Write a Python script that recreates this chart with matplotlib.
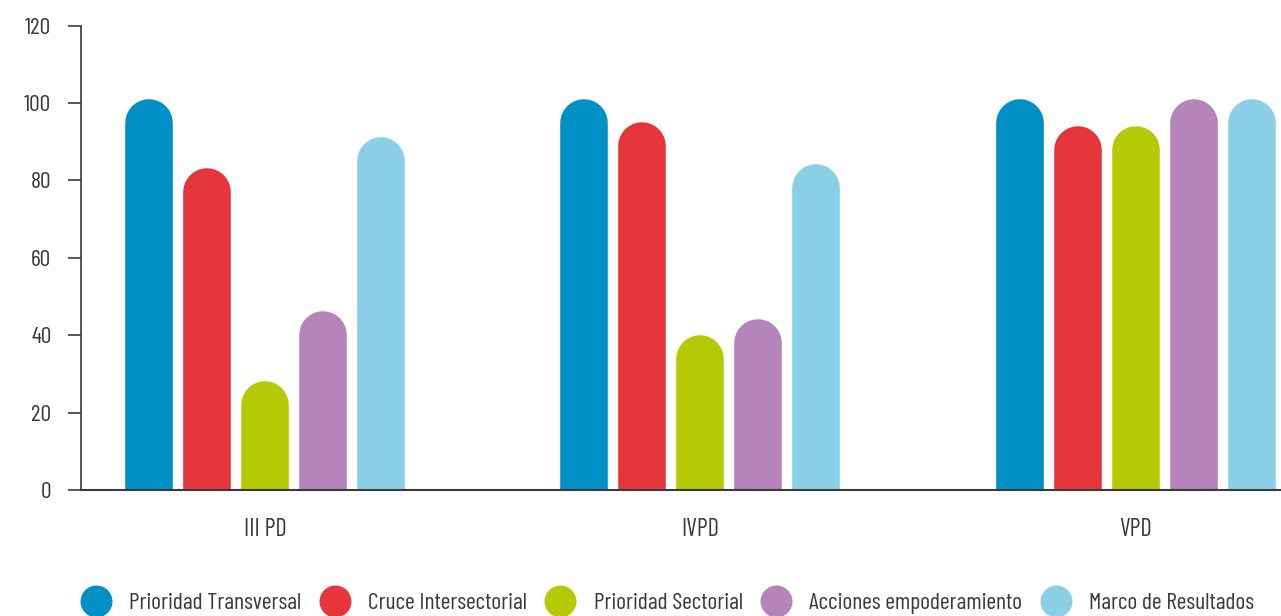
import matplotlib
matplotlib.use('Agg')
import matplotlib.pyplot as plt
from matplotlib.lines import Line2D
import numpy as np

groups = ['III PD', 'IVPD', 'VPD']
series = ['Prioridad Transversal', 'Cruce Intersectorial', 'Prioridad Sectorial',
          'Acciones empoderamiento', 'Marco de Resultados']
colors = ['#0090c5', '#e5373b', '#b5ca04', '#b584bb', '#8acfe5']

prioridad_transversal = [100, 100, 100]
cruce_intersectorial = [82, 94, 93]
prioridad_sectorial = [27, 39, 93]
acciones_empoderamiento = [45, 43, 100]
marco_resultados = [90, 83, 100]
values = [prioridad_transversal, cruce_intersectorial, prioridad_sectorial,
          acciones_empoderamiento, marco_resultados]

plt.rcParams['font.family'] = ['Barlow Condensed', 'DejaVu Sans']
text_col = '#3a3a3a'

fig = plt.figure(figsize=(12.81, 6.16), dpi=100)
ax = fig.add_axes([81 / 1281, 1 - 490 / 616, 1 - 81 / 1281, (490 - 25.7) / 616])
ax.set_xlim(-0.4227, 2.334)
ax.set_ylim(0, 120)

step = 0.1333
bar_px = 47.6
lw = bar_px * 72 / 100
px_per_unit = (490 - 25.7) / 120
r = (bar_px / 2) / px_per_unit
extra = 1.1  # rounded cap pokes slightly above the value

x = np.arange(len(groups))
for i, (vals, c) in enumerate(zip(values, colors)):
    xs = x + (i - 2) * step
    for xi, v in zip(xs, vals):
        ax.plot([xi, xi], [-10, v + extra - r], color=c, lw=lw,
                solid_capstyle='round', clip_on=True, zorder=2)

ax.set_yticks(range(0, 121, 20))
ax.set_xticks(x)
ax.set_xticklabels(groups)
ax.tick_params(axis='y', length=9.4, width=1.2, color=text_col, labelcolor=text_col,
               labelsize=17, pad=12)
ax.tick_params(axis='x', length=0, labelcolor=text_col, labelsize=17.5, pad=20)
for s in ['top', 'right']:
    ax.spines[s].set_visible(False)
ax.spines['left'].set_color(text_col)
ax.spines['left'].set_linewidth(1.2)
ax.spines['bottom'].set_color(text_col)
ax.spines['bottom'].set_linewidth(1.5)
ax.spines['bottom'].set_zorder(3)

handles = [Line2D([], [], ls='none', marker='o', markersize=22, color=c) for c in colors]
fig.legend(handles, series, loc='center', bbox_to_anchor=(0.5205, 1 - 603 / 616), ncol=5,
           frameon=False, fontsize=17, handlelength=1.4, handletextpad=0.7,
           columnspacing=0.72, labelcolor=text_col)

fig.savefig('out.png', dpi=100)
plt.close('all')
